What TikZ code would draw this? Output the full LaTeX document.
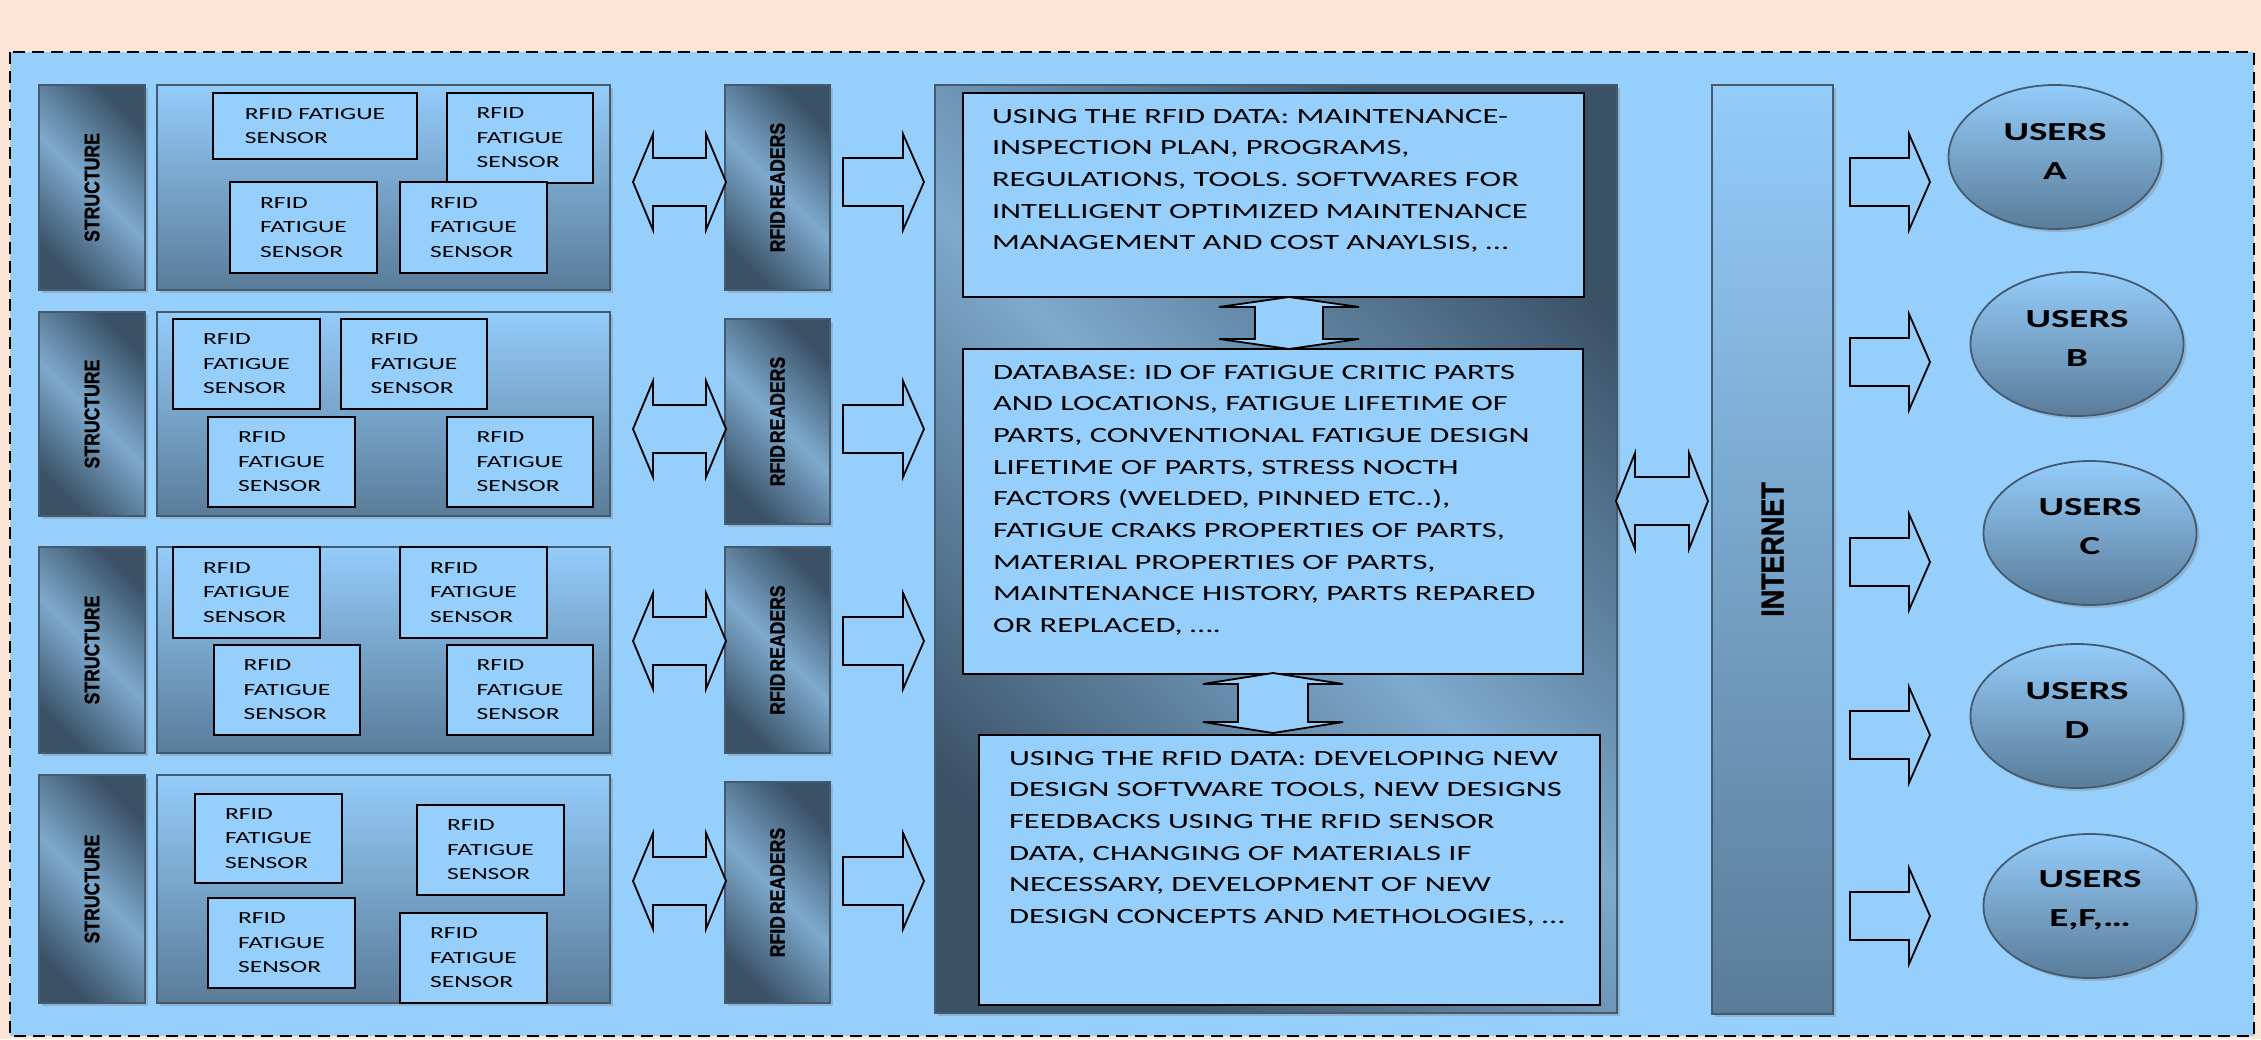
\documentclass[tikz,border=0pt]{standalone}
\usepackage{fontspec}
\setmainfont{Carlito}
\newfontfamily\bodyfont[FakeStretch=1.5]{Carlito}
\newfontfamily\lblfont[FakeStretch=0.84,FakeBold=1.2]{Liberation Sans}
\usetikzlibrary{fit,shadows,shapes.geometric}

\definecolor{peach}{RGB}{252,228,214}
\definecolor{skyfill}{RGB}{151,207,252}
\definecolor{slatedark}{RGB}{58,81,102}
\definecolor{slatemid}{RGB}{126,170,206}
\definecolor{slatebot}{RGB}{90,124,153}
\definecolor{slateline}{RGB}{68,90,110}
\definecolor{skytop}{RGB}{148,204,250}

\tikzset{
  shadowed/.style={drop shadow={shadow xshift=3pt,shadow yshift=-3pt,opacity=0.35}},
  diagbox/.style={inner sep=0pt, draw=slateline, line width=1.5pt, shadowed,
    top color=slatedark, bottom color=slatedark, middle color=slatemid, shading angle=-45},
  contbox/.style={inner sep=0pt, draw=slateline, line width=1.5pt, shadowed,
    top color=skytop, bottom color=slatebot},
  netbar/.style={inner sep=0pt, draw=slateline, line width=1.5pt, shadowed,
    top color=skytop, bottom color=slatebot},
  sensor/.style={draw=black, line width=2pt, fill=skyfill, inner sep=0pt},
  sensortext/.style={inner sep=0pt, align=left,
    font=\bodyfont\fontsize{17}{24.5}\selectfont},
  txtbox/.style={draw=black, line width=2.4pt, fill=skyfill, inner sep=0pt},
  bodytext/.style={anchor=north west, inner sep=0pt, align=left,
    font=\bodyfont\fontsize{21.7}{31.7}\selectfont},
  vlabel/.style={rotate=90, inner sep=0pt, font=\lblfont\bfseries\fontsize{21}{21}\selectfont},
  netlabel/.style={rotate=90, inner sep=0pt, font=\lblfont\bfseries\fontsize{32}{32}\selectfont},
  users/.style={ellipse, inner sep=0pt, draw=slateline, line width=1.8pt, shadowed,
    top color=skytop, bottom color=slatebot, minimum width=213pt, minimum height=144pt},
  userstext/.style={inner sep=0pt, align=center,
    font=\bodyfont\bfseries\fontsize{26}{39}\selectfont},
  blk/.style={draw=black, line width=1.8pt, fill=skyfill, line join=miter},
  frame/.style={draw=black, line width=2.2pt, dash pattern=on 12pt off 7pt, fill=skyfill}
}

% right-pointing block arrow: x0, x1, y centre, head length
\newcommand\rightblk[4]{\draw[blk] (#1,#3-24) -- (#2-#4,#3-24) -- (#2-#4,#3-48) -- (#2,#3)
  -- (#2-#4,#3+48) -- (#2-#4,#3+24) -- (#1,#3+24) -- cycle;}
% horizontal double block arrow: x0, x1, y centre, head length
\newcommand\dblblk[4]{\draw[blk] (#1,#3) -- (#1+#4,#3-48) -- (#1+#4,#3-24) -- (#2-#4,#3-24)
  -- (#2-#4,#3-48) -- (#2,#3) -- (#2-#4,#3+48) -- (#2-#4,#3+24) -- (#1+#4,#3+24)
  -- (#1+#4,#3+48) -- cycle;}
% vertical double block arrow: x centre, y0, y1, shaft half, head half, head length
\newcommand\vdblblk[6]{\draw[blk] (#1,#2) -- (#1+#5,#2+#6) -- (#1+#4,#2+#6) -- (#1+#4,#3-#6)
  -- (#1+#5,#3-#6) -- (#1,#3) -- (#1-#5,#3-#6) -- (#1-#4,#3-#6) -- (#1-#4,#2+#6)
  -- (#1-#5,#2+#6) -- cycle;}
% one structure row: index, top, bottom, reader top, reader bottom, arrow centre
\newcommand\structrow[6]{
  \node[diagbox, fit={(39,#2) (145,#3)}] (st#1) {};
  \node[vlabel] (stl#1) at (st#1.center) {STRUCTURE};
  \node[contbox, fit={(157,#2) (610,#3)}] (ct#1) {};
  \node[diagbox, fit={(725,#4) (830,#5)}] (rd#1) {};
  \node[vlabel] (rdl#1) at (rd#1.center) {RFID\kern2pt READERS};
  \dblblk{633}{726}{#6}{20}
  \rightblk{843}{924}{#6}{21}
}
% sensor tag: name, corners, caption
\newcommand\sensorbox[6]{
  \node[sensor, fit={(#2,#3) (#4,#5)}] (#1) {};
  \node[sensortext] (#1t) at (#1.center) {#6};
}

\begin{document}
\begin{tikzpicture}[x=1pt,y=-1pt]
\useasboundingbox (0,0) rectangle (2261,1039);
\fill[peach] (0,0) rectangle (2261,1039);
\draw[frame] (10,52) rectangle (2254,1036);

% structures, sensor groups and readers
\structrow{1}{85}{290}{85}{290}{182}
\structrow{2}{312}{516}{319}{524}{429}
\structrow{3}{547}{753}{547}{753}{641}
\structrow{4}{775}{1003}{782}{1003}{881}

\sensorbox{s11}{213}{93}{417}{159}{RFID FATIGUE\\SENSOR}
\sensorbox{s12}{447}{93}{593}{183}{RFID\\FATIGUE\\SENSOR}
\sensorbox{s13}{230}{182}{377}{273}{RFID\\FATIGUE\\SENSOR}
\sensorbox{s14}{400}{182}{547}{273}{RFID\\FATIGUE\\SENSOR}

\sensorbox{s21}{173}{319}{320}{409}{RFID\\FATIGUE\\SENSOR}
\sensorbox{s22}{341}{319}{487}{409}{RFID\\FATIGUE\\SENSOR}
\sensorbox{s23}{208}{417}{355}{507}{RFID\\FATIGUE\\SENSOR}
\sensorbox{s24}{447}{417}{593}{507}{RFID\\FATIGUE\\SENSOR}

\sensorbox{s31}{173}{547}{320}{638}{RFID\\FATIGUE\\SENSOR}
\sensorbox{s32}{400}{547}{547}{638}{RFID\\FATIGUE\\SENSOR}
\sensorbox{s33}{214}{645}{360}{735}{RFID\\FATIGUE\\SENSOR}
\sensorbox{s34}{447}{645}{593}{735}{RFID\\FATIGUE\\SENSOR}

\sensorbox{s41}{195}{794}{342}{883}{RFID\\FATIGUE\\SENSOR}
\sensorbox{s42}{417}{805}{564}{895}{RFID\\FATIGUE\\SENSOR}
\sensorbox{s43}{208}{898}{355}{988}{RFID\\FATIGUE\\SENSOR}
\sensorbox{s44}{400}{913}{547}{1003}{RFID\\FATIGUE\\SENSOR}

% central data panel
\node[diagbox, fit={(935,85) (1617,1013)}] (panel) {};
\node[txtbox, fit={(963,93) (1584,297)}] (tb1) {};
\node[txtbox, fit={(963,349) (1583,674)}] (tb2) {};
\node[txtbox, fit={(979,735) (1600,1005)}] (tb3) {};
\vdblblk{1289}{297}{349}{34}{70}{10}
\vdblblk{1273}{673}{733}{35}{70}{11}

\node[bodytext] (tt1) at ([xshift=30pt,yshift=-17pt]tb1.north west)
  {USING THE RFID DATA: MAINTENANCE-\\INSPECTION PLAN, PROGRAMS,\\
   REGULATIONS, TOOLS. SOFTWARES FOR\\INTELLIGENT OPTIMIZED MAINTENANCE\\
   MANAGEMENT AND COST ANAYLSIS, …};
\node[bodytext] (tt2) at ([xshift=31pt,yshift=-17pt]tb2.north west)
  {DATABASE: ID OF FATIGUE CRITIC PARTS\\AND LOCATIONS, FATIGUE LIFETIME OF\\
   PARTS, CONVENTIONAL FATIGUE DESIGN\\LIFETIME OF PARTS, STRESS NOCTH\\
   FACTORS (WELDED, PINNED ETC..),\\FATIGUE CRAKS PROPERTIES OF PARTS,\\
   MATERIAL PROPERTIES OF PARTS,\\MAINTENANCE HISTORY, PARTS REPARED\\
   OR REPLACED, ….};
\node[bodytext] (tt3) at ([xshift=31pt,yshift=-17pt]tb3.north west)
  {USING THE RFID DATA: DEVELOPING NEW\\DESIGN SOFTWARE TOOLS, NEW DESIGNS\\
   FEEDBACKS USING THE RFID SENSOR\\DATA, CHANGING OF MATERIALS IF\\
   NECESSARY, DEVELOPMENT OF NEW\\DESIGN CONCEPTS AND METHOLOGIES, …};

% internet backbone
\node[netbar, fit={(1712,85) (1833,1014)}] (net) {};
\node[netlabel] (netl) at (net.center) {INTERNET};
\dblblk{1616}{1708}{501}{19}

% user groups
\node[users] (ua) at (2055,157) {};
\node[users] (ub) at (2077,344) {};
\node[users] (uc) at (2090,533) {};
\node[users] (ud) at (2077,716) {};
\node[users] (ue) at (2090,906) {};
\node[userstext] (uat) at ([yshift=6pt]ua.center) {USERS\\A};
\node[userstext] (ubt) at ([yshift=6pt]ub.center) {USERS\\B};
\node[userstext] (uct) at ([yshift=6pt]uc.center) {USERS\\C};
\node[userstext] (udt) at ([yshift=6pt]ud.center) {USERS\\D};
\node[userstext] (uet) at ([yshift=6pt]ue.center) {USERS\\E,F,…};
\rightblk{1850}{1930}{182}{21}
\rightblk{1850}{1930}{362}{21}
\rightblk{1850}{1930}{562}{21}
\rightblk{1850}{1930}{735}{21}
\rightblk{1850}{1930}{916}{21}
\end{tikzpicture}
\end{document}
